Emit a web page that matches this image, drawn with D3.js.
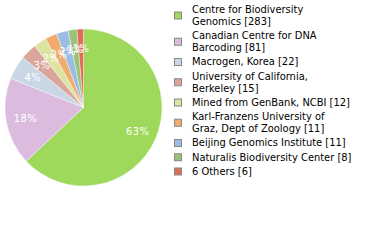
<!DOCTYPE html>
<html><head><meta charset="utf-8">
<script src="https://cdn.jsdelivr.net/npm/d3@7"></script>
<style>body{margin:0;background:#fff;}svg{display:block;}</style>
</head><body>
<svg id="c" width="380" height="240"></svg>
<script>
const categories = ["Centre for Biodiversity Genomics","Canadian Centre for DNA Barcoding","Macrogen, Korea","University of California, Berkeley","Mined from GenBank, NCBI","Karl-Franzens University of Graz, Dept of Zoology","Beijing Genomics Institute","Naturalis Biodiversity Center","6 Others"];
const values = [283,81,22,15,12,11,11,8,6];
const legendLines = [["Centre for Biodiversity","Genomics [283]"],["Canadian Centre for DNA","Barcoding [81]"],["Macrogen, Korea [22]"],["University of California,","Berkeley [15]"],["Mined from GenBank, NCBI [12]"],["Karl-Franzens University of","Graz, Dept of Zoology [11]"],["Beijing Genomics Institute [11]"],["Naturalis Biodiversity Center [8]"],["6 Others [6]"]];
const colors = ["#9fd95b","#dbbcdf","#c9d7e5","#dba59b","#dde3a0","#f0ab6e","#9bbde4","#9bc377","#de6e55"];

const svg = d3.select("#c");
const cx = 83.5, cy = 107.5, r = 78.5;
const total = d3.sum(values);
const pie = d3.pie().sort(null).value(d => d)(values);
const arc = d3.arc().innerRadius(0).outerRadius(r);
const labelArc = d3.arc().innerRadius(59).outerRadius(59);
const g = svg.append("g").attr("transform", `translate(${cx},${cy})`);
g.selectAll("path").data(pie).join("path")
  .attr("d", arc).attr("fill", (d,i) => colors[i])
  .attr("stroke", "#fff").attr("stroke-width", 0.4);
g.selectAll("text").data(pie).join("text")
  .attr("transform", d => `translate(${labelArc.centroid(d)})`)
  .attr("text-anchor", "middle").attr("dy", "0.35em")
  .attr("fill", "#fff").style("font", "11px 'DejaVu Sans Condensed', 'DejaVu Sans', sans-serif")
  .style("letter-spacing", "0.5px")
  .text(d => Math.floor(d.value / total * 100) + "%");

// legend
const lineH = 12;
let y = 9;
const lg = svg.append("g");
legendLines.forEach((lines, i) => {
  const mid = y + (lines.length - 1) * lineH / 2;
  lg.append("rect").attr("x", 174.5).attr("y", mid - 3.5 + 0.5).attr("width", 7).attr("height", 7)
    .attr("fill", colors[i]).attr("stroke", "#888").attr("stroke-width", 1);
  lines.forEach((t, j) => {
    lg.append("text").attr("x", 192).attr("y", y + j * lineH).attr("dy", "0.35em")
      .style("font", "11px 'DejaVu Sans Condensed', 'DejaVu Sans', sans-serif").attr("fill", "#000").text(t);
  });
  y += (lines.length - 1) * lineH + 14.25;
});
</script>
</body></html>
